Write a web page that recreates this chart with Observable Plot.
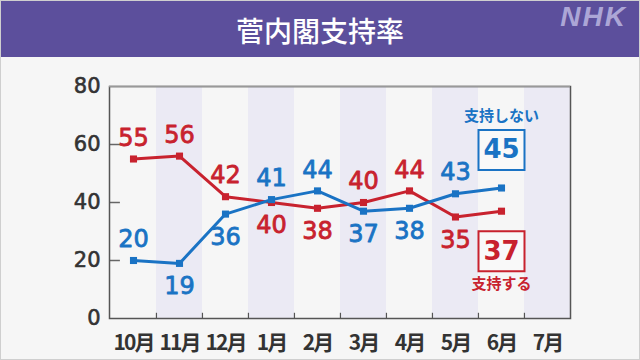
<!DOCTYPE html>
<html>
<head>
<meta charset="utf-8">
<script src="https://cdn.jsdelivr.net/npm/d3@7"></script>
<script src="https://cdn.jsdelivr.net/npm/@observablehq/plot@0.6"></script>
<style>
  html, body { margin: 0; padding: 0; background: #f6f6f6; }
  #wrap { position: relative; width: 640px; height: 360px; box-sizing: border-box; border: 1px solid #cfcfcf; background: #f6f6f6; overflow: hidden; font-family: "Noto Sans CJK JP", "Noto Sans", sans-serif; }
  #head { position: absolute; left: 0; top: 0; width: 100%; height: 56px; background: #5c4f9c; }
  #title { position: absolute; left: 0; right: 0; top: 0; text-align: center; color: #fff; font-size: 28px; font-weight: 500; line-height: 58px; }
  #logo { position: absolute; right: 12px; top: 2px; color: #aca6d6; font-family: "Liberation Sans", "DejaVu Sans", sans-serif; font-weight: bold; font-style: italic; font-size: 28px; letter-spacing: 2px; line-height: 1; }
  #chart { position: absolute; left: -2px; top: 56px; }
  g[aria-label="x-axis tick label"] text { letter-spacing: -2px; }
  g[aria-label="y-axis tick label"] text { stroke: #333; stroke-width: 0.6px; }
</style>
</head>
<body>
<div id="wrap">
  <div id="head"><div id="title"></div><div id="logo">NHK</div></div>
  <div id="chart"></div>
</div>
<script>
const title = "菅内閣支持率";
const months = ["10月", "11月", "12月", "1月", "2月", "3月", "4月", "5月", "6月", "7月"];
const shadedMonths = ["11月", "1月", "3月", "5月", "7月"];
const support = [55, 56, 42, 40, 38, 40, 44, 35, 37];
const nonSupport = [20, 19, 36, 41, 44, 37, 38, 43, 45];
const supportName = "支持する";
const nonSupportName = "支持しない";
const yTicks = [0, 20, 40, 60, 80];

const RED = "#c8222e";
const BLUE = "#1a73c4";

document.getElementById("title").textContent = title;

const W = 640, H = 304, mL = 110, mR = 69, mT = 29, mB = 43;
const bw = (W - mL - mR) / months.length;

const rows = support.map((v, i) => ({month: months[i], support: v, non: nonSupport[i]}));
const last = rows[rows.length - 1];
const labelRows = rows.slice(0, -1);

// label side: larger value above, smaller below (first month both above)
const sLabels = labelRows.map((r, i) => ({month: r.month, v: r.support, above: r.support >= r.non || i === 0}));
const nLabels = labelRows.map((r, i) => ({month: r.month, v: r.non, above: r.non > r.support || i === 0}));

const boxSymbol = {draw(ctx) { ctx.rect(-23, -20, 46, 40); }};
const numFont = {fontSize: 24, fontWeight: 400, fontFamily: "DejaVu Sans", strokeWidth: 0.8};
const boxFont = {fontSize: 26, fontWeight: 700, fontFamily: "DejaVu Sans"};

const chart = Plot.plot({
  width: W, height: H,
  marginLeft: mL, marginRight: mR, marginTop: mT, marginBottom: mB,
  style: {background: "transparent", fontFamily: "Noto Sans CJK JP", color: "#333"},
  x: {type: "band", domain: months, padding: 0},
  y: {domain: [0, 80], ticks: yTicks},
  marks: [
    Plot.barY(shadedMonths, {x: d => d, y: 80, fill: "#ebeaf4"}),
    Plot.axisY({ticks: yTicks, tickSize: 0, tickPadding: 9, fontSize: 21, fontFamily: "DejaVu Sans", fill: "#333", label: null}),
    Plot.axisX({tickSize: 0, tickPadding: 17, fontSize: 21, fontWeight: 700, fill: "#333", label: null}),
    Plot.tickY([20, 40, 60], {y: d => d, x: () => months[0], insetRight: bw - 10, stroke: "#666", strokeWidth: 1.5}),
    Plot.ruleX(months.slice(1), {y1: 0, y2: 1.8, dx: -bw / 2, stroke: "#555", strokeWidth: 1.2}),
    Plot.frame({stroke: "#555", strokeWidth: 1.5, strokeOpacity: 1}),
    Plot.ruleY([80], {stroke: "#999", strokeWidth: 1.5}),
    Plot.line(rows, {x: "month", y: "support", stroke: RED, strokeWidth: 3}),
    Plot.line(rows, {x: "month", y: "non", stroke: BLUE, strokeWidth: 3}),
    Plot.dot(rows, {x: "month", y: "support", symbol: "square", r: 4, fill: RED}),
    Plot.dot(rows, {x: "month", y: "non", symbol: "square", r: 4, fill: BLUE}),
    Plot.text(sLabels.filter(d => d.above), {x: "month", y: "v", text: d => String(d.v), dy: -21, fill: RED, stroke: RED, ...numFont}),
    Plot.text(sLabels.filter(d => !d.above), {x: "month", y: "v", text: d => String(d.v), dy: 23, fill: RED, stroke: RED, ...numFont}),
    Plot.text(nLabels.filter(d => d.above), {x: "month", y: "v", text: d => String(d.v), dy: -21, fill: BLUE, stroke: BLUE, ...numFont}),
    Plot.text(nLabels.filter(d => !d.above), {x: "month", y: "v", text: d => String(d.v), dy: 23, fill: BLUE, stroke: BLUE, ...numFont}),
    // boxed latest values
    Plot.dot([last], {x: "month", y: "non", symbol: boxSymbol, dy: -38, fill: "#f9f9f9", stroke: BLUE, strokeWidth: 2}),
    Plot.text([last], {x: "month", y: "non", text: d => String(d.non), dy: -38, fill: BLUE, ...boxFont}),
    Plot.text([last], {x: "month", y: "non", text: () => nonSupportName, dy: -72, fill: BLUE, fontSize: 15, fontWeight: 700}),
    Plot.dot([last], {x: "month", y: "support", symbol: boxSymbol, dy: 40, fill: "#f9f9f9", stroke: RED, strokeWidth: 2}),
    Plot.text([last], {x: "month", y: "support", text: d => String(d.support), dy: 40, fill: RED, ...boxFont}),
    Plot.text([last], {x: "month", y: "support", text: () => supportName, dy: 73, fill: RED, fontSize: 15, fontWeight: 700})
  ]
});
document.getElementById("chart").appendChild(chart);
</script>
</body>
</html>
